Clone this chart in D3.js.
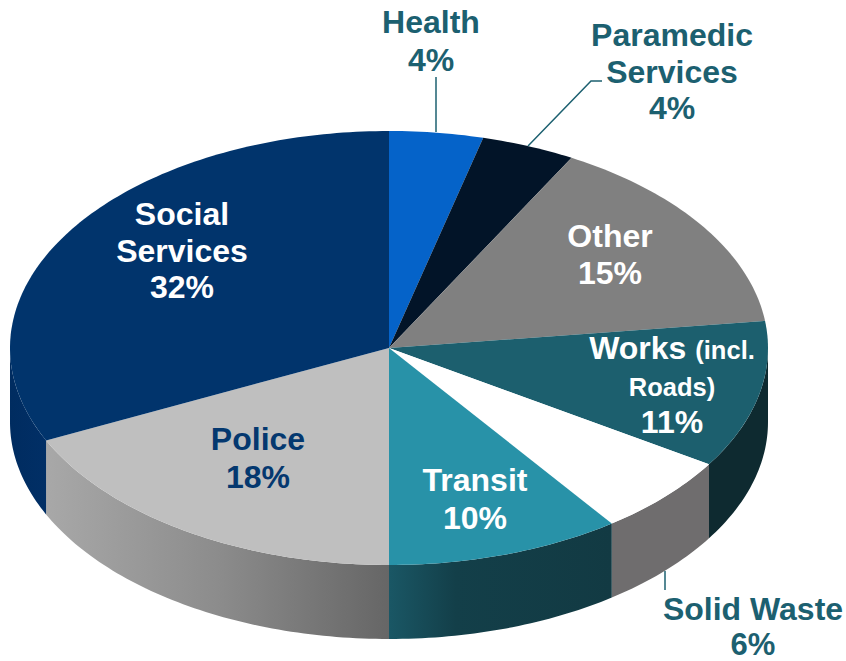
<!DOCTYPE html>
<html>
<head>
<meta charset="utf-8">
<script src="https://cdn.jsdelivr.net/npm/d3@7"></script>
<style>
html,body{margin:0;padding:0;background:#fff;}
svg{display:block;}
text{font-family:"Liberation Sans",Arial,sans-serif;font-weight:700;text-anchor:middle;}
</style>
</head>
<body>
<script>
const categories = ["Health","Paramedic Services","Other","Works (incl. Roads)","Solid Waste","Transit","Police","Social Services"];
const shares = [4,4,15,11,6,10,18,32];

const W = 846, H = 661;
const cx = 389, cy = 348, rx = 379, ry = 217, depth = 74;

const topColors = ["#0563c9","#021428","#808080","#1c5f6e","#ffffff","#2892a8","#bfbfbf","#01346c"];
const wallStops = [
  null, null, null,
  [[0,"#0e2a30"],[1,"#0e2a30"]],
  [[0,"#6f6d6e"],[1,"#6f6d6e"]],
  [[0,"#1a5765"],[0.3,"#133f49"],[1,"#123a43"]],
  [[0,"#a8a8a8"],[0.5,"#8c8c8c"],[1,"#666666"]],
  [[0,"#002c60"],[1,"#012f66"]]
];
const labelLayout = [
  {lines:[["Health",32]], more:[["4%",32]], x:431, y:33, dy:38, fill:"#1c6070"},
  {lines:[["Paramedic",32],["Services",32]], more:[["4%",32]], x:672, y:46, dy:36.5, fill:"#1c6070"},
  {lines:[["Other",32]], more:[["15%",32]], x:610, y:247, dy:36.5, fill:"#ffffff"},
  {lines:[["Works ",32,"(incl.",25.5],["Roads)",25.5]], more:[["11%",32]], x:672, y:359, dy:37, fill:"#ffffff"},
  {lines:[["Solid Waste",32]], more:[["6%",31]], x:753, y:620, dy:34.5, fill:"#1c6070"},
  {lines:[["Transit",32]], more:[["10%",32]], x:475, y:491, dy:38, fill:"#ffffff"},
  {lines:[["Police",32]], more:[["18%",32]], x:258, y:450, dy:38, fill:"#04386f"},
  {lines:[["Social",32],["Services",32]], more:[["32%",32]], x:182, y:225, dy:36.5, fill:"#ffffff"}
];
const leaderLines = [
  [[436,77],[436,132]],
  [[528,146],[591,81],[602,81]],
  [[665,571],[665,590]]
];

const svg = d3.select("body").append("svg").attr("width",W).attr("height",H);
const defs = svg.append("defs");

const slices = d3.pie().sort(null).value(d=>d)(shares);

const px = d3.scaleLinear().domain([-1,1]).range([cx-rx,cx+rx]);
const py = d3.scaleLinear().domain([-1,1]).range([cy-ry,cy+ry]);
const angleStep = Math.PI/180;

function rimPoints(a0,a1,off){
  const pts=[];
  const n=Math.max(2,Math.ceil((a1-a0)/angleStep));
  for(let i=0;i<=n;i++){
    const a=a0+(a1-a0)*i/n;
    pts.push([px(Math.sin(a)),py(-Math.cos(a))+off]);
  }
  return pts;
}
const line = d3.line();

// side walls (only the front half of the rim is visible)
slices.forEach((s,i)=>{
  const a0=Math.max(s.startAngle,Math.PI/2), a1=Math.min(s.endAngle,3*Math.PI/2);
  if(a1<=a0||!wallStops[i]) return;
  const top=rimPoints(a0,a1,0), bot=rimPoints(a0,a1,depth).reverse();
  const xs=top.map(p=>p[0]);
  const id="wall"+i;
  const g=defs.append("linearGradient").attr("id",id).attr("gradientUnits","userSpaceOnUse")
    .attr("x1",d3.min(xs)).attr("x2",d3.max(xs)).attr("y1",0).attr("y2",0);
  wallStops[i].forEach(st=>g.append("stop").attr("offset",st[0]).attr("stop-color",st[1]));
  svg.append("path").attr("d",line(top.concat(bot))+"Z").attr("fill",`url(#${id})`);
});

// top face
slices.forEach((s,i)=>{
  const pts=[[px(0),py(0)]].concat(rimPoints(s.startAngle,s.endAngle,0));
  svg.append("path").attr("d",line(pts)+"Z").attr("fill",topColors[i]);
});

// leader lines
leaderLines.forEach(l=>{
  svg.append("path").attr("d",line(l)).attr("fill","none").attr("stroke","#1c6070").attr("stroke-width",1.5);
});

// labels
labelLayout.forEach(l=>{
  const rows=l.lines.concat(l.more);
  rows.forEach((r,j)=>{
    const t=svg.append("text").attr("x",l.x).attr("y",l.y+j*l.dy).attr("fill",l.fill);
    t.append("tspan").attr("font-size",r[1]).text(r[0]);
    if(r[2]) t.append("tspan").attr("font-size",r[3]).text(r[2]);
  });
});
</script>
</body>
</html>
